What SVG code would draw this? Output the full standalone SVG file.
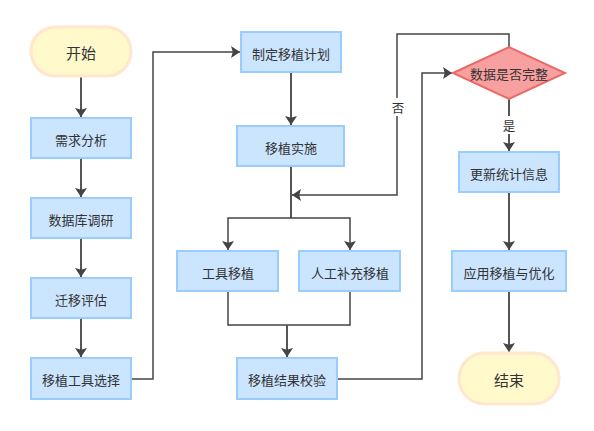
<svg xmlns="http://www.w3.org/2000/svg" width="594" height="431" viewBox="0 0 594 431">
<defs>
<style>
.box{fill:#cce5ff;stroke:#99ccff;stroke-width:2}
.term{fill:#fff9cc;stroke:#ffe6cc;stroke-width:3}
.dia{fill:#f8a0a0;stroke:#ea6b66;stroke-width:2}
.t{font-family:"Noto Sans CJK SC","Noto Sans",sans-serif;font-size:13px;fill:#333;text-anchor:middle;dominant-baseline:central}
.tt{font-family:"Noto Sans CJK SC","Noto Sans",sans-serif;font-size:15px;fill:#333;text-anchor:middle;dominant-baseline:central}
.tl{font-family:"Noto Sans CJK SC","Noto Sans",sans-serif;font-size:12.5px;fill:#333;text-anchor:middle;dominant-baseline:central}
.thick{fill:none;stroke:#555;stroke-width:2}
.thin{fill:none;stroke:#444;stroke-width:1.5}
</style>
<marker id="ah" viewBox="0 0 10 10" refX="10" refY="5" markerWidth="9" markerHeight="12" markerUnits="userSpaceOnUse" orient="auto" preserveAspectRatio="none">
<path d="M0,0 L10,5 L0,10 L2,5 Z" fill="#444"/>
</marker>
</defs>
<rect width="594" height="431" fill="#fff"/>
<g id="connectors">
<path class="thick" d="M81,77 V117" marker-end="url(#ah)"/>
<path class="thick" d="M81,158 V197" marker-end="url(#ah)"/>
<path class="thick" d="M81,238 V277" marker-end="url(#ah)"/>
<path class="thick" d="M81,318 V357" marker-end="url(#ah)"/>
<path class="thin" d="M131,379 H153 V52 H240" marker-end="url(#ah)"/>
<path class="thick" d="M291,72 V125" marker-end="url(#ah)"/>
<path class="thick" d="M291,166 V218"/>
<path class="thin" d="M291,218 H228 V250" marker-end="url(#ah)"/>
<path class="thin" d="M291,218 H350 V250" marker-end="url(#ah)"/>
<path class="thin" d="M228,291 V325 H350 V291"/>
<path class="thick" d="M287,325 V357" marker-end="url(#ah)"/>
<path class="thin" d="M337,379 H422 V73 H452" marker-end="url(#ah)"/>
<path class="thin" d="M509,47 V34 H397 V195 H292" marker-end="url(#ah)"/>
<rect x="390" y="98" width="15" height="18" fill="#fff"/>
<text class="tl" x="398" y="107">否</text>
<path class="thick" d="M509,99 V151" marker-end="url(#ah)"/>
<rect x="500" y="116" width="18" height="18" fill="#fff"/>
<text class="tl" x="509" y="125">是</text>
<path class="thick" d="M509,192 V250" marker-end="url(#ah)"/>
<path class="thick" d="M509,291 V352" marker-end="url(#ah)"/>
</g>
<g id="start"><rect class="term" x="31" y="27" width="100" height="49" rx="24.5"/><text class="tt" x="81" y="52">开始</text></g>
<g id="n1"><rect class="box" x="31" y="118" width="100" height="40"/><text class="t" x="81" y="139">需求分析</text></g>
<g id="n2"><rect class="box" x="31" y="198" width="100" height="40"/><text class="t" x="81" y="219">数据库调研</text></g>
<g id="n3"><rect class="box" x="31" y="278" width="100" height="40"/><text class="t" x="81" y="299">迁移评估</text></g>
<g id="n4"><rect class="box" x="31" y="358" width="100" height="41"/><text class="t" x="81" y="379">移植工具选择</text></g>
<g id="n5"><rect class="box" x="241" y="32" width="100" height="40"/><text class="t" x="291" y="53">制定移植计划</text></g>
<g id="n6"><rect class="box" x="237" y="126" width="107" height="40"/><text class="t" x="291" y="147">移植实施</text></g>
<g id="n7"><rect class="box" x="177" y="251" width="101" height="40"/><text class="t" x="228" y="272">工具移植</text></g>
<g id="n8"><rect class="box" x="299" y="251" width="101" height="40"/><text class="t" x="350" y="272">人工补充移植</text></g>
<g id="n9"><rect class="box" x="237" y="358" width="100" height="41"/><text class="t" x="287" y="379">移植结果校验</text></g>
<g id="d1"><path class="dia" d="M453,73 L509,47 L565,73 L509,99 Z"/><text class="t" x="509" y="73">数据是否完整</text></g>
<g id="n10"><rect class="box" x="459" y="152" width="100" height="40"/><text class="t" x="509" y="173">更新统计信息</text></g>
<g id="n11"><rect class="box" x="452" y="251" width="114" height="40"/><text class="t" x="509" y="272">应用移植与优化</text></g>
<g id="end"><rect class="term" x="459" y="353" width="100" height="51" rx="25.5"/><text class="tt" x="509" y="379">结束</text></g>
</svg>
